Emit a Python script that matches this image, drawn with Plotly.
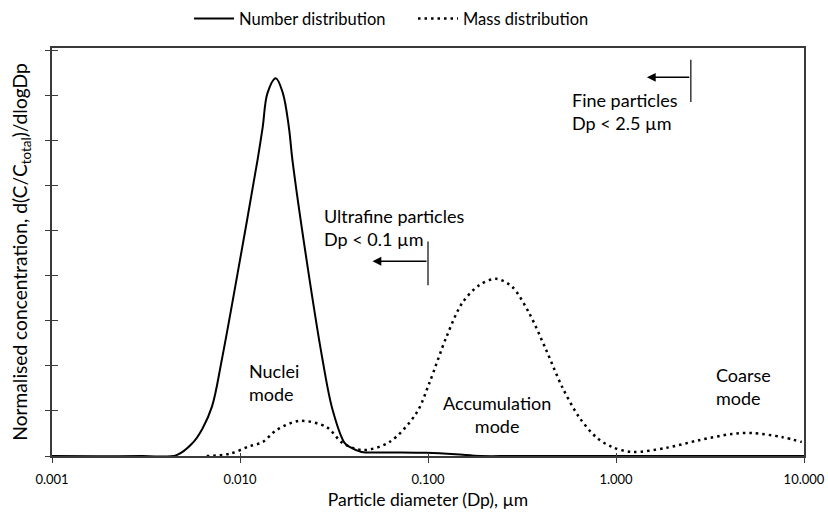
import math
import plotly.graph_objects as go

# ---------------- data ----------------
number_dp = [0.001, 0.003, 0.0046, 0.0056, 0.0063, 0.0071, 0.0080, 0.0100, 0.0124, 0.0132, 0.0140,
             0.0155, 0.0169, 0.0182, 0.0190, 0.0226, 0.0275, 0.0311, 0.0360, 0.0383, 0.0443,
             0.060, 0.098, 0.140, 0.19, 0.3, 10.0]
number_conc = [0.0, 0.0, 0.02, 0.29, 0.60, 1.10, 2.13, 4.35, 6.57, 7.29, 8.05,
               8.38, 8.05, 7.29, 6.57, 4.35, 2.13, 1.02, 0.29, 0.20, 0.09,
               0.08, 0.07, 0.04, 0.0, 0.0, 0.0]

mass_dp = [0.00665, 0.0088, 0.0113, 0.0132, 0.0157, 0.0208, 0.0289, 0.0351, 0.0449, 0.0624,
           0.0867, 0.1017, 0.1253, 0.1524, 0.1876, 0.2308, 0.2806, 0.3452, 0.4253, 0.5174,
           0.6367, 0.7837, 0.9528, 1.218, 1.845, 2.762, 4.14, 5.28, 7.62, 9.73]
mass_conc = [0.0, 0.05, 0.22, 0.31, 0.58, 0.78, 0.64, 0.29, 0.13, 0.31,
             0.95, 1.62, 2.64, 3.40, 3.79, 3.93, 3.75, 3.17, 2.35, 1.53,
             0.86, 0.42, 0.20, 0.09, 0.18, 0.35, 0.49, 0.51, 0.42, 0.31]

x_tick_vals = [0.001, 0.01, 0.1, 1.0, 10.0]
x_tick_text = ["0.001", "0.010", "0.100", "1.000", "10.000"]

ultrafine_cut = 0.1
fine_cut = 2.5

FONT = "Lato, 'Open Sans', sans-serif"
LINE = "#3a3a3a"

fig = go.Figure()
fig.add_trace(go.Scatter(x=number_dp, y=number_conc, mode="lines", name="Number distribution",
                         line=dict(color="black", width=2, shape="spline", smoothing=1.0)))
fig.add_trace(go.Scatter(x=mass_dp, y=mass_conc, mode="lines", name="Mass distribution",
                         line=dict(color="black", width=2.5, dash="2.5px,4px", shape="spline", smoothing=0.9)))
# invisible trace to activate overlay axes (inside ticks)
fig.add_trace(go.Scatter(x=[x_tick_vals[0]], y=[0], mode="markers", xaxis="x2", yaxis="y2",
                         marker=dict(opacity=0), showlegend=False, hoverinfo="skip"))

lg = math.log10
ann = []
for cut, ytop, ybot, yarr, tip in [(ultrafine_cut, 4.79, 3.79, 4.32, 0.0507),
                                   (fine_cut, 8.82, 7.85, 8.40, 1.46)]:
    ann.append(dict(x=lg(cut), y=ybot, ax=lg(cut), ay=ytop, xref="x", yref="y", axref="x", ayref="y",
                    text="", showarrow=True, arrowhead=0, arrowwidth=1.5, arrowcolor=LINE))
    ann.append(dict(x=lg(tip), y=yarr, ax=lg(cut), ay=yarr, xref="x", yref="y", axref="x", ayref="y",
                    text="", showarrow=True, arrowhead=2, arrowsize=1.1, arrowwidth=1.6, arrowcolor="black"))

txt_font = dict(family=FONT, size=18, color="black")
labels = [
    ("Ultrafine particles<br>Dp < 0.1 µm", -1.566, 5.07, "left"),
    ("Fine particles<br>Dp < 2.5 µm", -0.244, 7.64, "left"),
    ("Nuclei<br>mode", -1.964, 1.64, "left"),
    ("Accumulation<br>mode", -0.631, 0.91, "center"),
    ("Coarse<br>mode", 0.521, 1.55, "left"),
]
for t, x, y, al in labels:
    ann.append(dict(x=x, y=y, xref="x", yref="y", text=t, showarrow=False, xanchor=al, yanchor="middle",
                    align=al, font=txt_font))

fig.update_layout(
    width=828, height=515,
    margin=dict(l=52, r=24, t=48, b=59, autoexpand=False),
    paper_bgcolor="white", plot_bgcolor="white",
    font=dict(family=FONT, size=14, color="black"),
    showlegend=True,
    legend=dict(orientation="h", xref="container", yref="container", x=0.2283, y=0.9635,
                xanchor="left", yanchor="middle", font=dict(family=FONT, size=16.5, color="black"),
                entrywidth=169, entrywidthmode="pixels",
                itemwidth=40, tracegroupgap=0, bgcolor="rgba(0,0,0,0)"),
    xaxis=dict(type="log", range=[-3, 1], tickvals=x_tick_vals, ticktext=x_tick_text,
               ticks="outside", ticklen=5, tickcolor=LINE, tickwidth=1, ticklabelstandoff=6,
               showline=True, linecolor=LINE, linewidth=1.5, mirror=True, automargin=False,
               showgrid=False, zeroline=False, tickfont=dict(family=FONT, size=13),
               title=dict(text="Particle diameter (Dp), µm", font=dict(family=FONT, size=17.5), standoff=7)),
    yaxis=dict(range=[0, 9.05], tick0=0, dtick=1, showticklabels=False,
               ticks="outside", ticklen=5, tickcolor=LINE, tickwidth=1,
               showline=True, linecolor=LINE, linewidth=1.5, mirror=True, automargin=False,
               showgrid=False, zeroline=False,
               title=dict(text="Normalised concentration, d(C/C<sub>total</sub>)/dlogDp",
                          font=dict(family=FONT, size=19.2), standoff=13)),
    xaxis2=dict(type="log", range=[-3, 1], tickvals=x_tick_vals, overlaying="x", anchor="y2",
                ticks="inside", ticklen=3, tickcolor=LINE, showticklabels=False,
                showline=False, showgrid=False, zeroline=False),
    yaxis2=dict(range=[0, 9.05], tick0=0, dtick=1, overlaying="y", anchor="x2",
                ticks="inside", ticklen=6, tickcolor=LINE, showticklabels=False,
                showline=False, showgrid=False, zeroline=False),
    annotations=ann,
)

# remove the default page margin so the 828x515 figure fills the window exactly
fig.write_html("out.html", config={"displayModeBar": False},
               post_script="document.body.style.margin='0';document.body.style.overflow='hidden';")
